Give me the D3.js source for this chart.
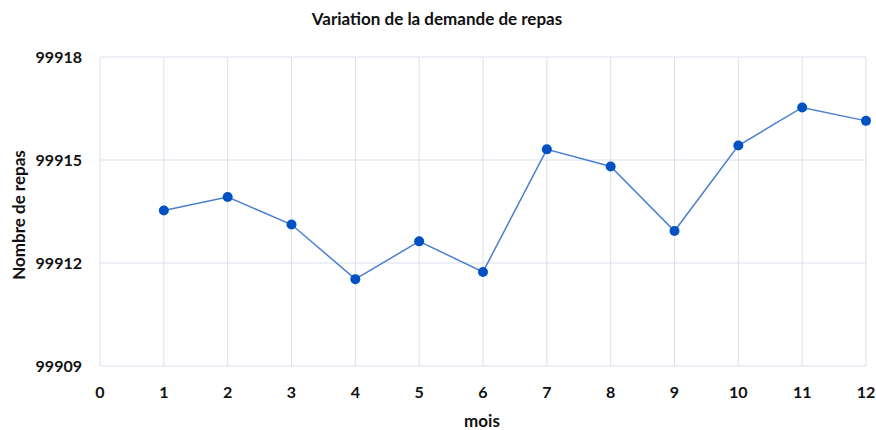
<!DOCTYPE html>
<html><head><meta charset="utf-8">
<script src="https://cdn.jsdelivr.net/npm/d3@7"></script>
<style>body{margin:0;background:#fff}svg{display:block}text{font-family:Lato,"Open Sans",sans-serif;font-weight:bold;fill:#111}</style>
</head><body><svg id="c" width="876" height="430"></svg>
<script>
const months = [1,2,3,4,5,6,7,8,9,10,11,12];
const meals = [99913.53,99913.92,99913.12,99911.53,99912.63,99911.74,99915.31,99914.81,99912.93,99915.42,99916.53,99916.14];
const xTicks = [0,1,2,3,4,5,6,7,8,9,10,11,12];
const yTicks = [99909,99912,99915,99918];
const title = "Variation de la demande de repas";
const xLabel = "mois";
const yLabel = "Nombre de repas";

const svg = d3.select("#c");
const m = {l:100, r:10, t:57, b:64};
const W = 876, H = 430;
const x = d3.scaleLinear().domain([0,12]).range([m.l, W - m.r]);
const y = d3.scaleLinear().domain([99909,99918]).range([H - m.b, m.t]);
const grid = "#d9dfea";

svg.append("g").selectAll("line").data(xTicks).join("line")
  .attr("x1", d=>x(d)).attr("x2", d=>x(d)).attr("y1", y(99918)).attr("y2", y(99909))
  .attr("stroke", grid).attr("stroke-width", 1);
svg.append("g").selectAll("line").data(yTicks).join("line")
  .attr("x1", x(0)).attr("x2", x(12)).attr("y1", d=>y(d)).attr("y2", d=>y(d))
  .attr("stroke", grid).attr("stroke-width", 1);

svg.append("g").selectAll("text").data(yTicks).join("text")
  .attr("x", 82).attr("y", d=>y(d)).attr("dy", "0.35em").attr("text-anchor", "end")
  .attr("font-size", 16).text(d=>d);
svg.append("g").selectAll("text").data(xTicks).join("text")
  .attr("x", d=>x(d)).attr("y", 392).attr("dy", "0.35em").attr("text-anchor", "middle")
  .attr("font-size", 16).text(d=>d);

const data = months.map((mo,i)=>({mo, v: meals[i]}));
svg.append("path").datum(data)
  .attr("d", d3.line().x(d=>x(d.mo)).y(d=>y(d.v)))
  .attr("fill", "none").attr("stroke", "#4a7fd1").attr("stroke-width", 1.5);
svg.append("g").selectAll("circle").data(data).join("circle")
  .attr("cx", d=>x(d.mo)).attr("cy", d=>y(d.v)).attr("r", 5)
  .attr("fill", "#0052c4");

svg.append("text").attr("x", 437).attr("y", 19.5).attr("dy","0.35em").attr("text-anchor","middle")
  .attr("font-size", 17).text(title);
svg.append("text").attr("x", 482).attr("y", 421).attr("dy","0.35em").attr("text-anchor","middle")
  .attr("font-size", 17).text(xLabel);
svg.append("text").attr("transform", "translate(19,215) rotate(-90)").attr("dy","0.35em")
  .attr("text-anchor","middle").attr("font-size", 17).text(yLabel);
</script></body></html>
